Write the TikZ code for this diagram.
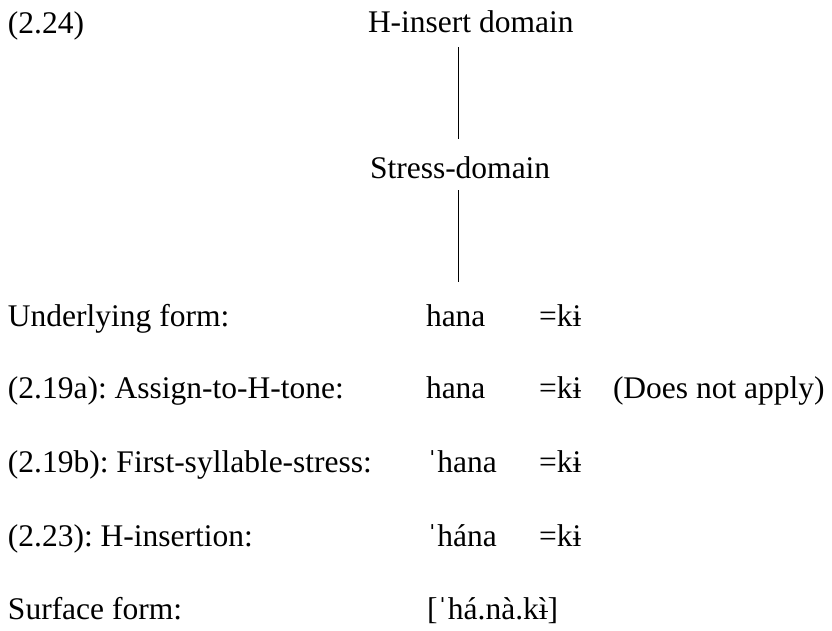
\documentclass[tikz,border=0pt]{standalone}
\usepackage{fontspec}
\setmainfont{Liberation Serif}
% barred i carrying a grave accent in place of its dot
\newcommand{\barigrave}{\ooalign{ì\cr\hidewidth\raisebox{.21em}{\rule{.3em}{.045em}}\hidewidth\cr}}
\begin{document}
\frenchspacing
\begin{tikzpicture}[x=1pt,y=-1pt,
  lbl/.style={anchor=base west,inner sep=0pt,outer sep=0pt,font=\fontsize{31.5}{36}\selectfont},
  branch/.style={line width=0.9pt}]
\useasboundingbox (0,0) rectangle (832,630);
% example number and the two domains
\node[lbl] (ex) at (8,33) {(2.24)};
\node[lbl] (hid) at (368,32) {H-insert domain};
\node[lbl] (sd) at (370,178) {Stress-domain};
\coordinate (l1a) at (458,47);
\coordinate (l1b) at (458,139);
\coordinate (l2a) at (458,190);
\coordinate (l2b) at (458,282);
\draw[branch] (l1a) -- (l1b);
\draw[branch] (l2a) -- (l2b);
% derivation rows
\node[lbl] (r1) at (8,326) {Underlying form:};
\node[lbl] (r2) at (8,398) {(2.19a): Assign-to-H-tone:};
\node[lbl] (r3) at (8,472) {(2.19b): First-syllable-stress:};
\node[lbl] (r4) at (8,546) {(2.23): H-insertion:};
\node[lbl] (r5) at (8,619) {Surface form:};
% forms
\node[lbl] (f1) at (426,326) {hana};
\node[lbl] (c1) at (539,326) {=kɨ};
\node[lbl] (f2) at (426,398) {hana};
\node[lbl] (c2) at (539,398) {=kɨ};
\node[lbl] (n2) at (613,398) {(Does not apply)};
\node[lbl] (f3) at (427,472) {ˈhana};
\node[lbl] (c3) at (539,472) {=kɨ};
\node[lbl] (f4) at (427,546) {ˈhána};
\node[lbl] (c4) at (539,546) {=kɨ};
\node[lbl] (f5) at (427,619) {[ˈhá.nà.k\barigrave]};
\end{tikzpicture}
\end{document}
